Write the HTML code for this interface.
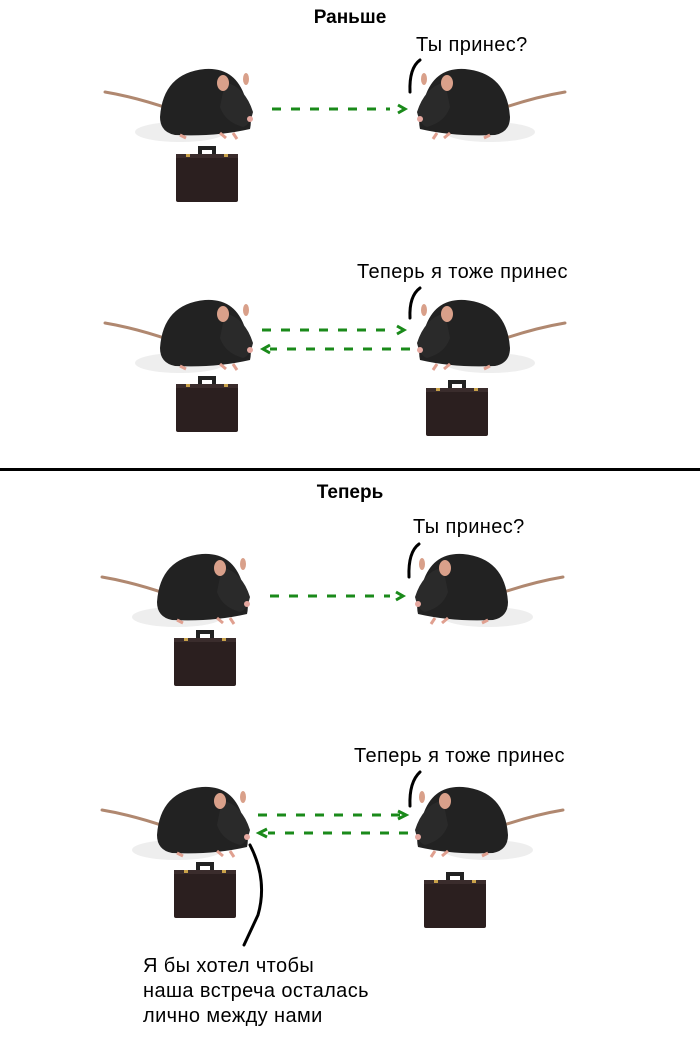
<!DOCTYPE html>
<html><head><meta charset="utf-8"><style>
html,body{margin:0;padding:0;background:#fff;}
svg{display:block;}
text{font-family:"Liberation Sans",sans-serif;fill:#000;}
</style></head><body>
<svg width="700" height="1047" viewBox="0 0 700 1047" xmlns="http://www.w3.org/2000/svg">
<defs>
<g id="rat">
  <path d="M0,-5 Q30,0 65,12" stroke="#b08870" stroke-width="3" fill="none" stroke-linecap="round"/>
  <ellipse cx="75" cy="35" rx="45" ry="10" fill="#eee"/>
  <path d="M55,20 Q58,-24 100,-28 Q130,-30 140,0 Q148,20 145,32 Q110,40 70,38 Q55,35 55,20Z" fill="#222"/>
  <path d="M120,-15 Q140,-10 148,15 Q145,28 138,30 Q120,25 115,10Z" fill="#2a2a2a"/>
  <ellipse cx="118" cy="-14" rx="6" ry="8" fill="#d9a08a"/>
  <ellipse cx="141" cy="-18" rx="3" ry="6" fill="#d9a08a"/>
  <circle cx="145" cy="22" r="3" fill="#e6a8a0"/>
  <path d="M75,38 l6,3 M115,36 l6,5 M128,36 l4,6" stroke="#e0a090" stroke-width="3"/>
</g>
<g id="case">
  <path d="M22,0 h18 v8 h-4 v-4 h-10 v4 h-4z" fill="#222"/>
  <rect x="0" y="8" width="62" height="48" rx="2" fill="#2b1f1f"/>
  <rect x="0" y="8" width="62" height="4" fill="#3a2c2c"/>
  <rect x="10" y="8" width="4" height="3" fill="#c9a24a"/>
  <rect x="48" y="8" width="4" height="3" fill="#c9a24a"/>
</g>
</defs>
<g font-size="20" letter-spacing="0.4">
<text x="350" y="23" text-anchor="middle" font-weight="bold" font-size="19" letter-spacing="0">Раньше</text>
<text x="416" y="51">Ты принес?</text>
<text x="357" y="278">Теперь я тоже принес</text>
<text x="350" y="498" text-anchor="middle" font-weight="bold" font-size="19" letter-spacing="0">Теперь</text>
<text x="413" y="533">Ты принес?</text>
<text x="354" y="762">Теперь я тоже принес</text>
<text x="143" y="972">Я бы хотел чтобы</text>
<text x="143" y="997">наша встреча осталась</text>
<text x="143" y="1022">лично между нами</text>
</g>
<rect x="0" y="468" width="700" height="3" fill="#000"/>
<use href="#rat" x="105" y="97"/>
<use href="#rat" transform="translate(565,97) scale(-1,1)"/>
<use href="#rat" x="105" y="328"/>
<use href="#rat" transform="translate(565,328) scale(-1,1)"/>
<use href="#rat" x="102" y="582"/>
<use href="#rat" transform="translate(563,582) scale(-1,1)"/>
<use href="#rat" x="102" y="815"/>
<use href="#rat" transform="translate(563,815) scale(-1,1)"/>
<use href="#case" x="176" y="146"/>
<use href="#case" x="176" y="376"/>
<use href="#case" x="426" y="380"/>
<use href="#case" x="174" y="630"/>
<use href="#case" x="174" y="862"/>
<use href="#case" x="424" y="872"/>
<g stroke="#000" stroke-width="3" fill="none" stroke-linecap="round">
<path d="M410,92 Q409,68 420,60"/>
<path d="M410,318 Q409,296 420,288"/>
<path d="M409,577 Q408,552 419,544"/>
<path d="M410,806 Q409,782 420,772"/>
<path d="M250,845 Q268,880 258,915 Q250,932 244,945"/>
</g>
<g stroke="#1a8a1a" stroke-width="3" fill="none" stroke-dasharray="9,10">
<path d="M272,109 H390"/>
<path d="M262,330 H395"/>
<path d="M410,349 H270"/>
<path d="M270,596 H390"/>
<path d="M258,815 H400"/>
<path d="M408,833 H268"/>
</g>
<g stroke="#1a8a1a" stroke-width="3" fill="none">
<path d="M398,105 l7,4 l-7,4"/>
<path d="M397,326 l7,4 l-7,4"/>
<path d="M270,345 l-7,4 l7,4"/>
<path d="M396,592 l7,4 l-7,4"/>
<path d="M398,811 l8,4 l-8,4"/>
<path d="M267,829 l-8,4 l8,4"/>
</g>
</svg>
</body></html>
